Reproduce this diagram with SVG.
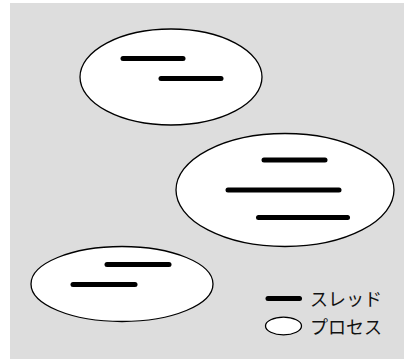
<svg xmlns="http://www.w3.org/2000/svg" width="404" height="359" viewBox="0 0 404 359">
  <style>
    .proc { fill: #ffffff; stroke: #000000; stroke-width: 1.3; }
    .thread { stroke: #000000; stroke-width: 5; stroke-linecap: round; fill: none; }
    .label { font-family: "Noto Sans CJK JP", "Noto Sans", sans-serif; font-size: 18px; fill: #111111; }
  </style>
  <rect x="10" y="3" width="394" height="356" fill="#dddddd"/>

  <g id="process-1">
    <ellipse class="proc" cx="171" cy="77" rx="91" ry="48"/>
    <line class="thread" x1="123" y1="58.5" x2="183" y2="58.5"/>
    <line class="thread" x1="161" y1="78.5" x2="221" y2="78.5"/>
  </g>

  <g id="process-2">
    <ellipse class="proc" cx="285" cy="190" rx="109" ry="56.5"/>
    <line class="thread" x1="264" y1="160" x2="325" y2="160"/>
    <line class="thread" x1="228" y1="190" x2="339" y2="190"/>
    <line class="thread" x1="258.5" y1="217.5" x2="347.5" y2="217.5"/>
  </g>

  <g id="process-3">
    <ellipse class="proc" cx="122" cy="284" rx="91" ry="37.5"/>
    <line class="thread" x1="107" y1="264.5" x2="169" y2="264.5"/>
    <line class="thread" x1="73" y1="284.5" x2="135" y2="284.5"/>
  </g>

  <g id="legend">
    <line class="thread" x1="268" y1="298.5" x2="299.5" y2="298.5"/>
    <text class="label" x="310" y="305.5">スレッド</text>
    <ellipse class="proc" cx="283.5" cy="326" rx="18" ry="8.8"/>
    <text class="label" x="310" y="334">プロセス</text>
  </g>
</svg>
